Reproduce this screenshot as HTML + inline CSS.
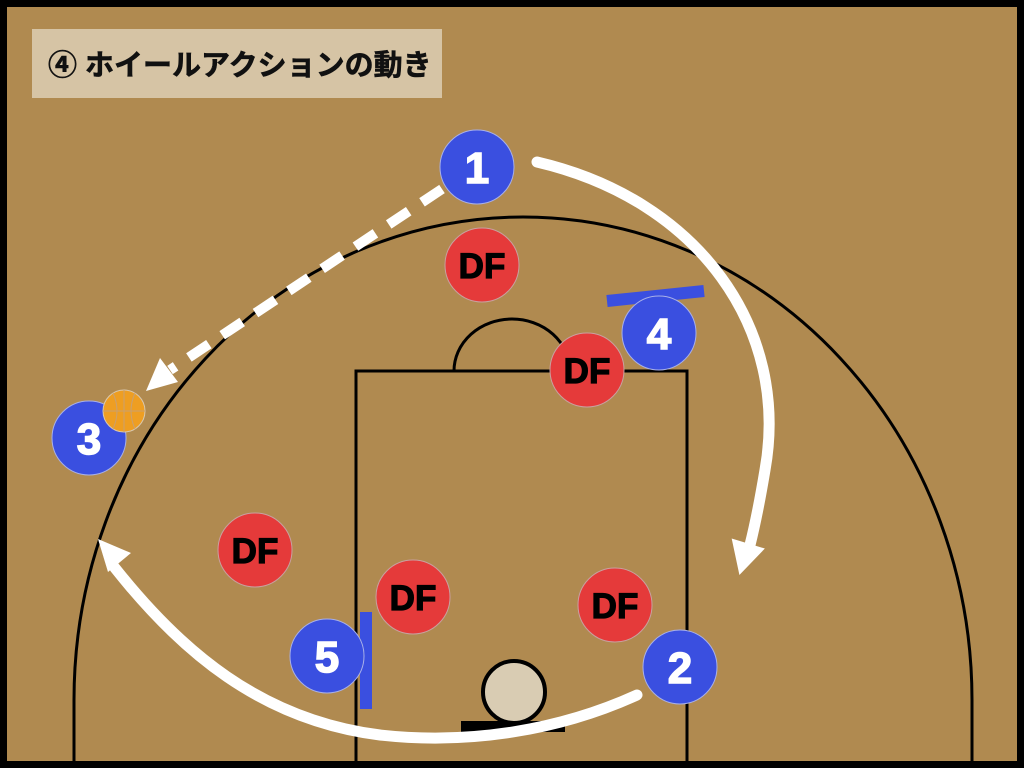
<!DOCTYPE html>
<html><head><meta charset="utf-8"><style>
html,body{margin:0;padding:0;background:#000;}
svg{display:block;}
</style></head><body>
<svg width="1024" height="768" viewBox="0 0 1024 768" xmlns="http://www.w3.org/2000/svg">
<rect x="0" y="0" width="1024" height="768" fill="#000"/>
<rect x="7" y="7" width="1010" height="754" fill="#b08a50"/>
<rect x="32" y="29" width="410" height="69" fill="#d6c4a5"/>
<text x="48" y="75" font-family="'Liberation Sans','Noto Sans CJK JP',sans-serif" font-size="29" font-weight="bold" fill="#111" stroke="#111" stroke-width="0.6">④ ホイールアクションの動き</text>
<path d="M74 761 L74 700 A449 483 0 0 1 972 700 L972 761" fill="none" stroke="#000" stroke-width="3"/>
<rect x="356" y="371" width="331" height="400" fill="none" stroke="#000" stroke-width="3"/>
<path d="M454 371 A58 52 0 0 1 570 371" fill="none" stroke="#000" stroke-width="3"/>
<circle cx="514" cy="692" r="31" fill="#d9ccb3" stroke="#000" stroke-width="4"/>
<rect x="461" y="721" width="104" height="11" fill="#000"/>
<path d="M537 162 C700 200 790 330 765 470 C760 500 755 525 750 545" fill="none" stroke="#fff" stroke-width="11" stroke-linecap="round"/>
<polygon points="733,540 763,549 740,573" fill="#fff" stroke="#fff" stroke-width="2"/>
<path d="M637 695 C560 730 470 745 380 735 C260 720 180 650 115 568" fill="none" stroke="#fff" stroke-width="11" stroke-linecap="round"/>
<polygon points="98,539 131,553 108,572" fill="#fff"/>
<line x1="442" y1="189" x2="170" y2="370" stroke="#fff" stroke-width="10" stroke-dasharray="24,16"/>
<polygon points="146,391 178,382 160,358" fill="#fff"/>
<line x1="607" y1="301" x2="704" y2="291" stroke="#3a4fe0" stroke-width="12"/>
<line x1="366" y1="612" x2="366" y2="709" stroke="#3a4fe0" stroke-width="12"/>
<g font-family="'Liberation Sans',sans-serif" font-weight="bold" text-anchor="middle">
<g fill="#e53a3a" stroke="#c9a0a0" stroke-width="1">
<circle cx="482" cy="265" r="37"/><circle cx="587" cy="370" r="37"/><circle cx="255" cy="550" r="37"/><circle cx="413" cy="597" r="37"/><circle cx="615" cy="605" r="37"/>
</g>
<g fill="#000" stroke="#000" stroke-width="1.2" font-size="35">
<text x="482" y="278">DF</text><text x="587" y="383">DF</text><text x="255" y="563">DF</text><text x="413" y="610">DF</text><text x="615" y="618">DF</text>
</g>
<g fill="#3a4fe0" stroke="#a8b0e8" stroke-width="1">
<circle cx="477" cy="167" r="37"/><circle cx="659" cy="333" r="37"/><circle cx="89" cy="438" r="37"/><circle cx="327" cy="656" r="37"/><circle cx="680" cy="667" r="37"/>
</g>
<g fill="#fff" stroke="#fff" stroke-width="1.5" font-size="44">
<text x="477" y="183">1</text><text x="659" y="349">4</text><text x="89" y="454">3</text><text x="327" y="672">5</text><text x="680" y="683">2</text>
</g>
</g>
<circle cx="124" cy="411" r="21" fill="#ee9e22" stroke="#d8c8b0" stroke-width="1"/>
<g fill="none" stroke="#c9a070" stroke-width="1">
<line x1="103" y1="411" x2="145" y2="411"/><line x1="124" y1="390" x2="124" y2="432"/>
<path d="M113 393 Q121 411 113 429"/><path d="M135 393 Q127 411 135 429"/>
</g>
</svg>
</body></html>
